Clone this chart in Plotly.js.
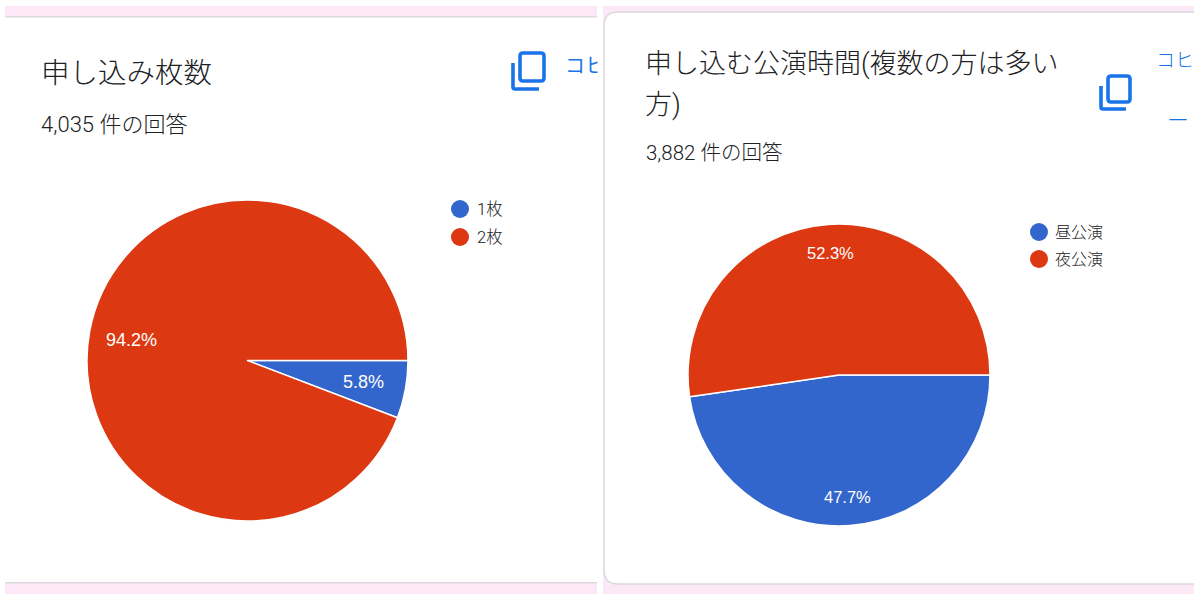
<!DOCTYPE html>
<html><head><meta charset="utf-8">
<script src="https://cdn.plot.ly/plotly-3.0.1.min.js"></script>
<style>html,body{margin:0;padding:0;background:#fff}#c{width:1200px;height:601px}</style></head>
<body><div id="c"></div>
<script>
const leftLabels = ['1枚', '2枚'];
const leftValues = [5.8, 94.2];
const rightLabels = ['昼公演', '夜公演'];
const rightValues = [47.7, 52.3];
const sliceColors = ['#3366cc', '#dc3912'];
const W = 1200, H = 601;
const FONT = 'Roboto, "Noto Sans CJK JP", sans-serif';
const PCT_FONT = '"Liberation Sans", Arial, sans-serif';
const INK = '#202124', LINK = '#1a73e8', PINK = '#fde8f8', EDGE = '#dcd8de';

function dom(x0, x1, yTop, yBot) {
  return {x: [x0 / W, x1 / W], y: [1 - yBot / H, 1 - yTop / H]};
}
function pie(labels, values, domain) {
  return {
    type: 'pie', labels, values, domain, sort: false, direction: 'clockwise', rotation: 90,
    marker: {colors: sliceColors, line: {color: '#ffffff', width: 1.5}},
    textinfo: 'none', showlegend: false, hoverinfo: 'label+percent'
  };
}
function txt(text, x, y, size, color, anchor, family) {
  return {text, x: x / W, y: 1 - y / H, xref: 'paper', yref: 'paper', xanchor: anchor || 'left', yanchor: 'middle',
    showarrow: false, font: {family: family || FONT, size, color: color || INK, weight: 300}};
}
function pctLabels(values, cx, cy, r, factor, size) {
  const total = values.reduce((a, b) => a + b, 0);
  let acc = 0;
  return values.map(v => {
    const a = (acc + v / 2) / total * 2 * Math.PI;
    acc += v;
    return txt(v.toFixed(1) + '%', cx + Math.cos(a) * r * factor, cy + Math.sin(a) * r * factor, size, '#ffffff', 'center', PCT_FONT);
  });
}
function rect(x0, y0, x1, y1, fill, layer) {
  return {type: 'rect', xref: 'x', yref: 'y', x0, y0, x1, y1, fillcolor: fill, line: {width: 0}, layer: layer || 'below'};
}
function dot(cx, cy, r, fill) {
  return {type: 'circle', xref: 'x', yref: 'y', x0: cx - r, x1: cx + r, y0: cy - r, y1: cy + r, fillcolor: fill, line: {width: 0}};
}
function icon(x0, y0, x1, y1, bx, by, bb, br) {
  const r = 3;
  return [{type: 'path', xref: 'x', yref: 'y', line: {color: LINK, width: 3.6}, fillcolor: 'rgba(0,0,0,0)',
    path: `M${x0 + r},${y0} L${x1 - r},${y0} Q${x1},${y0} ${x1},${y0 + r} L${x1},${y1 - r} Q${x1},${y1} ${x1 - r},${y1} L${x0 + r},${y1} Q${x0},${y1} ${x0},${y1 - r} L${x0},${y0 + r} Q${x0},${y0} ${x0 + r},${y0} Z`},
    {type: 'path', xref: 'x', yref: 'y', line: {color: LINK, width: 3.6}, fillcolor: 'rgba(0,0,0,0)',
    path: `M${bx},${by} L${bx},${bb - 2} Q${bx},${bb} ${bx + 2},${bb} L${br},${bb}`}];
}

const shapes = [
  rect(5, 6, 597, 16, PINK), rect(5, 16, 597, 17.5, EDGE),
  rect(5, 583, 597, 594, PINK), rect(5, 582, 597, 583.5, EDGE),
  rect(603, 6, 1194, 30, PINK), rect(603, 570, 1194, 594, PINK),
  {type: 'path', xref: 'x', yref: 'y', layer: 'below', fillcolor: '#ffffff', line: {color: EDGE, width: 1.5},
   path: 'M1200,12 L618,12 Q604,12 604,26 L604,570 Q604,584 618,584 L1200,584'},
  rect(1194, 0, 1200, 601, '#ffffff'),
  rect(597.5, 40, 603, 90, '#ffffff', 'above'),
  dot(460, 209, 9, sliceColors[0]), dot(460, 237, 9, sliceColors[1]),
  dot(1039, 232, 9, sliceColors[0]), dot(1039, 259, 9, sliceColors[1]),
  ...icon(520, 53, 544, 81, 513, 63, 89, 539),
  ...icon(1108, 76, 1130, 102, 1101, 86, 109, 1126)
];

const annotations = [
  txt('申し込み枚数', 39, 73, 28.5),
  txt('4,035 件の回答', 39, 124, 22),
  txt(leftLabels[0], 475, 209, 16.5), txt(leftLabels[1], 475, 237, 16.5),
  txt('申し込む公演時間(複数の方は多い', 643, 64, 27),
  txt('方)', 643, 105, 27),
  txt('3,882 件の回答', 644, 153, 20.5),
  txt(rightLabels[0], 1053, 232, 16), txt(rightLabels[1], 1053, 259, 16),
  txt('コヒ', 1154, 60, 19, LINK),
  txt('ー', 1165, 120, 22, LINK),
  ...pctLabels(leftValues, 247.5, 361, 160.5, 0.735, 18),
  ...pctLabels(rightValues, 839, 375, 151, 0.81, 16.5)
];

const clippedCopy = {type: 'scatter', mode: 'text', x: [565], y: [68], text: ['コヒ'], textposition: 'middle right',
  textfont: {family: FONT, size: 20, color: LINK}, showlegend: false, hoverinfo: 'skip', cliponaxis: false};

Plotly.newPlot('c', [
  clippedCopy,
  pie(leftLabels, leftValues, dom(87, 408, 200, 521)),
  pie(rightLabels, rightValues, dom(688, 990, 224, 526))
], {
  width: W, height: H, margin: {l: 0, r: 0, t: 0, b: 0}, paper_bgcolor: '#ffffff', plot_bgcolor: 'rgba(0,0,0,0)',
  xaxis: {range: [0, W], visible: false, fixedrange: true},
  yaxis: {range: [H, 0], visible: false, fixedrange: true},
  shapes, annotations, showlegend: false
}, {displayModeBar: false, staticPlot: true});
</script></body></html>
